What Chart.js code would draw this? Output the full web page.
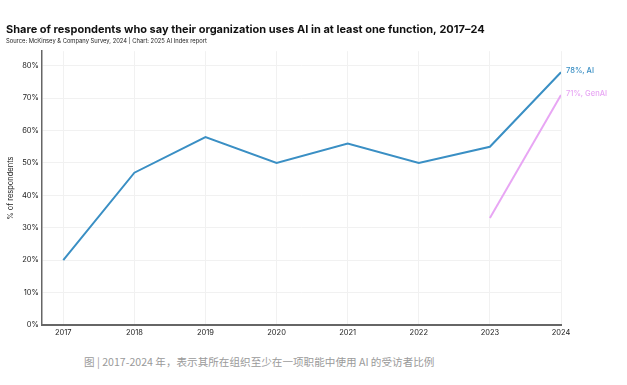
<!DOCTYPE html>
<html>
<head>
<meta charset="utf-8">
<script src="https://cdn.jsdelivr.net/npm/chart.js@4"></script>
<style>
  body { margin: 0; background: #fff; width: 627px; height: 385px; overflow: hidden; }
  #wrap { position: absolute; left: 0; top: 0; width: 627px; height: 340px; }
  #caption { position: absolute; left: 84px; top: 354px;
    font-family: "Noto Sans CJK SC", sans-serif; font-size: 10.6px; color: #9a9a9a; }
</style>
</head>
<body>
<div id="wrap"><canvas id="chart"></canvas></div>
<div id="caption">图 | 2017-2024 年，表示其所在组织至少在一项职能中使用 AI 的受访者比例</div>
<script>
var years = [2017, 2018, 2019, 2020, 2021, 2022, 2023, 2024];
var aiValues = [20, 47, 58, 50, 56, 50, 55, 78];
var genAiYears = [2023, 2024];
var genAiValues = [33, 71];
var yTicks = [0, 10, 20, 30, 40, 50, 60, 70, 80];

var aiColor = "#3a8fc4";
var genAiColor = "#e8a6f4";

var endLabels = {
  id: "endLabels",
  afterDatasetsDraw: function (chart) {
    var ctx = chart.ctx;
    ctx.save();
    ctx.font = "500 7.5px Inter, sans-serif";
    ctx.textBaseline = "middle";
    chart.data.datasets.forEach(function (ds, i) {
      var meta = chart.getDatasetMeta(i);
      var last = meta.data[meta.data.length - 1];
      ctx.fillStyle = ds.borderColor;
      ctx.fillText(ds.endText, last.x + 5, last.y - 1);
    });
    ctx.restore();
  },
};

var ctx = document.getElementById("chart").getContext("2d");
var chart = new Chart(ctx, {
  type: "line",
  data: {
    datasets: [
      {
        label: "AI",
        endText: "78%, AI",
        data: years.map(function (y, i) { return { x: y, y: aiValues[i] }; }),
        borderColor: aiColor,
        borderWidth: 2,
        pointRadius: 0,
        tension: 0,
      },
      {
        label: "GenAI",
        endText: "71%, GenAI",
        data: genAiYears.map(function (y, i) { return { x: y, y: genAiValues[i] }; }),
        borderColor: genAiColor,
        borderWidth: 2,
        pointRadius: 0,
        tension: 0,
      },
    ],
  },
  options: {
    responsive: true,
    maintainAspectRatio: false,
    animation: false,
    layout: { padding: { left: 6, right: 66, top: 0, bottom: 0 } },
    plugins: {
      legend: { display: false },
      tooltip: { enabled: false },
      title: {
        display: true,
        text: "Share of respondents who say their organization uses AI in at least one function, 2017–24",
        align: "start",
        color: "#111",
        font: { family: "Inter, sans-serif", size: 11, weight: "bold" },
        padding: { top: 23, bottom: 2 },
      },
      subtitle: {
        display: true,
        text: "Source: McKinsey & Company Survey, 2024 | Chart: 2025 AI Index report",
        align: "start",
        color: "#222",
        font: { family: "Inter, sans-serif", size: 5.8 },
        padding: { bottom: 6 },
      },
    },
    scales: {
      x: {
        type: "linear",
        min: 2016.7,
        max: 2024,
        afterBuildTicks: function (axis) {
          axis.ticks = years.map(function (y) { return { value: y }; });
        },
        ticks: {
          color: "#222",
          font: { family: "Inter, sans-serif", size: 7.5 },
          callback: function (v) { return String(v); },
          maxRotation: 0,
          padding: 3,
        },
        grid: { color: "#f1f1f1", drawTicks: false },
        border: { color: "#666", width: 2 },
      },
      y: {
        min: 0,
        max: 84.5,
        afterBuildTicks: function (axis) {
          axis.ticks = yTicks.map(function (v) { return { value: v }; });
        },
        ticks: {
          color: "#222",
          font: { family: "Inter, sans-serif", size: 7.5 },
          callback: function (v) { return v + "%"; },
          padding: 3,
        },
        grid: { color: "#f1f1f1", drawTicks: false },
        border: { color: "#666", width: 1.5 },
        title: {
          display: true,
          text: "% of respondents",
          color: "#222",
          font: { family: "Inter, sans-serif", size: 7.5 },
          padding: { top: 0, bottom: 4 },
        },
      },
    },
  },
  plugins: [endLabels],
});
</script>
</body>
</html>
